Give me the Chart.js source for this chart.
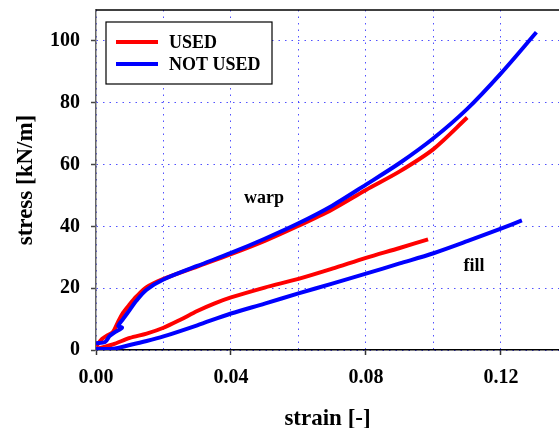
<!DOCTYPE html>
<html>
<head>
<meta charset="utf-8">
<script src="https://cdn.jsdelivr.net/npm/chart.js@4"></script>
<style>
  html, body { margin: 0; padding: 0; background: #fff; }
  #wrap { width: 559px; height: 428px; }
</style>
</head>
<body>
<div id="wrap"><canvas id="chart"></canvas></div>
<script>
// values
const warpNotUsedStrain = [0, 0.0027, 0.004, 0.0056, 0.0077, 0.0066, 0.008, 0.010, 0.012, 0.015, 0.020, 0.030, 0.040, 0.050, 0.060, 0.070, 0.080, 0.090, 0.100, 0.110, 0.120, 0.1305];
const warpNotUsedStress = [2.2, 2.6, 4.5, 5.8, 7.2, 7.8, 10, 13, 16, 19.5, 22.8, 27.2, 31.4, 36, 41, 46.7, 53.5, 60.5, 68.5, 78, 89.5, 102.8];

const warpUsedStrain = [0, 0.0018, 0.003, 0.005, 0.0065, 0.008, 0.010, 0.012, 0.015, 0.020, 0.030, 0.040, 0.050, 0.060, 0.070, 0.080, 0.090, 0.100, 0.110];
const warpUsedStress = [1.2, 3.6, 4.5, 5.8, 9, 12, 14.8, 17.3, 20.3, 23, 27, 31, 35.3, 40.2, 45.5, 51.8, 57.8, 65, 75.2];

const fillNotUsedStrain = [0, 0.005, 0.010, 0.015, 0.020, 0.030, 0.040, 0.050, 0.060, 0.070, 0.080, 0.090, 0.100, 0.110, 0.120, 0.1262];
const fillNotUsedStress = [0.4, 0.4, 1.6, 2.9, 4.4, 8, 11.8, 15, 18.3, 21.5, 24.7, 28, 31.3, 35.2, 39.3, 41.9];

const fillUsedStrain = [0, 0.005, 0.010, 0.015, 0.020, 0.025, 0.030, 0.035, 0.040, 0.050, 0.060, 0.070, 0.080, 0.090, 0.0984];
const fillUsedStress = [0.3, 1.8, 3.9, 5.3, 7.2, 9.8, 12.6, 15, 17, 20.2, 23, 26.3, 29.8, 33, 35.8];

const seriesNames = ['USED', 'NOT USED'];
const seriesColors = ['#ff0000', '#0000ff'];

const FONT = "'Liberation Serif', 'Times New Roman', serif";
const GRID = 'rgba(50, 50, 255, 0.85)';

function points(xs, ys) {
    return xs.map((x, i) => ({ x: x, y: ys[i] }));
}

function line(data, color) {
    return {
        data: data,
        showLine: true,
        borderColor: color,
        backgroundColor: color,
        borderWidth: 4,
        pointRadius: 0,
        tension: 0.3,
        fill: false
    };
}

// labels on the curves + boxed legend + top frame
const extras = {
    id: 'extras',
    afterDraw(chart) {
        const ctx = chart.ctx;
        const area = chart.chartArea;
        const xs = chart.scales.x;
        const ys = chart.scales.y;

        ctx.save();
        ctx.strokeStyle = '#000';
        ctx.lineWidth = 1.5;
        ctx.beginPath();
        ctx.moveTo(area.left, area.top);
        ctx.lineTo(area.right, area.top);
        ctx.stroke();

        ctx.fillStyle = '#000';
        ctx.font = 'bold 18px ' + FONT;
        ctx.textAlign = 'center';
        ctx.textBaseline = 'middle';
        ctx.fillText('warp', xs.getPixelForValue(0.0498), ys.getPixelForValue(49));
        ctx.fillText('fill', xs.getPixelForValue(0.112), ys.getPixelForValue(27));

        // legend
        const bx = area.left + 10, by = area.top + 12, bw = 166, bh = 62;
        ctx.fillStyle = '#fff';
        ctx.fillRect(bx, by, bw, bh);
        ctx.strokeStyle = '#000';
        ctx.lineWidth = 1.2;
        ctx.strokeRect(bx, by, bw, bh);
        ctx.textAlign = 'left';
        seriesNames.forEach((name, i) => {
            const yy = by + 20 + i * 22;
            ctx.strokeStyle = seriesColors[i];
            ctx.lineWidth = 4;
            ctx.beginPath();
            ctx.moveTo(bx + 10, yy);
            ctx.lineTo(bx + 52, yy);
            ctx.stroke();
            ctx.fillStyle = '#000';
            ctx.fillText(name, bx + 63, yy + 1);
        });
        ctx.restore();
    }
};

new Chart(document.getElementById('chart'), {
    type: 'scatter',
    data: {
        datasets: [
            line(points(warpNotUsedStrain, warpNotUsedStress), seriesColors[1]),
            line(points(fillNotUsedStrain, fillNotUsedStress), seriesColors[1]),
            line(points(warpUsedStrain, warpUsedStress), seriesColors[0]),
            line(points(fillUsedStrain, fillUsedStress), seriesColors[0])
        ]
    },
    options: {
        responsive: true,
        maintainAspectRatio: false,
        animation: false,
        layout: { padding: { top: 10, left: 0, right: 0, bottom: 0 } },
        plugins: {
            legend: { display: false },
            tooltip: { enabled: false }
        },
        scales: {
            x: {
                type: 'linear',
                min: 0,
                max: 0.1372,
                afterFit: s => { s.height = 78; s.paddingLeft = 0; s.paddingRight = 0; },
                ticks: {
                    stepSize: 0.02,
                    includeBounds: false,
                    autoSkip: false,
                    maxRotation: 0,
                    padding: 11,
                    color: '#000',
                    font: { family: FONT, size: 20, weight: 'bold' },
                    callback: v => (Math.round(v / 0.02) % 2 === 0 ? v.toFixed(2) : '')
                },
                grid: {
                    color: GRID,
                    lineWidth: 1,
                    tickLength: 5,
                    tickBorderDash: [],
                    tickWidth: 1.5,
                    tickColor: c => (c.tick && Math.round(c.tick.value / 0.02) % 2 === 0 ? '#333' : 'rgba(0,0,0,0)')
                },
                border: { color: '#000', width: 1.5, dash: [1.5, 5] },
                title: {
                    display: true,
                    text: 'strain [-]',
                    color: '#000',
                    font: { family: FONT, size: 23, weight: 'bold', lineHeight: 0.8 },
                    padding: { top: 0, bottom: 0 }
                }
            },
            y: {
                min: 0,
                max: 110,
                afterFit: s => { s.width = 96; s.paddingTop = 0; s.paddingBottom = 0; },
                ticks: {
                    stepSize: 20,
                    includeBounds: false,
                    padding: 11,
                    color: '#000',
                    font: { family: FONT, size: 20, weight: 'bold' }
                },
                grid: {
                    color: GRID,
                    lineWidth: 1,
                    tickLength: 5,
                    tickBorderDash: [],
                    tickWidth: 1.5,
                    tickColor: '#444'
                },
                border: { color: '#666', width: 1.5, dash: [1.5, 5] },
                title: {
                    display: true,
                    text: 'stress [kN/m]',
                    color: '#000',
                    font: { family: FONT, size: 23, weight: 'bold', lineHeight: 1 },
                    padding: { top: 15, bottom: 0 }
                }
            }
        }
    },
    plugins: [extras]
});
</script>
</body>
</html>
